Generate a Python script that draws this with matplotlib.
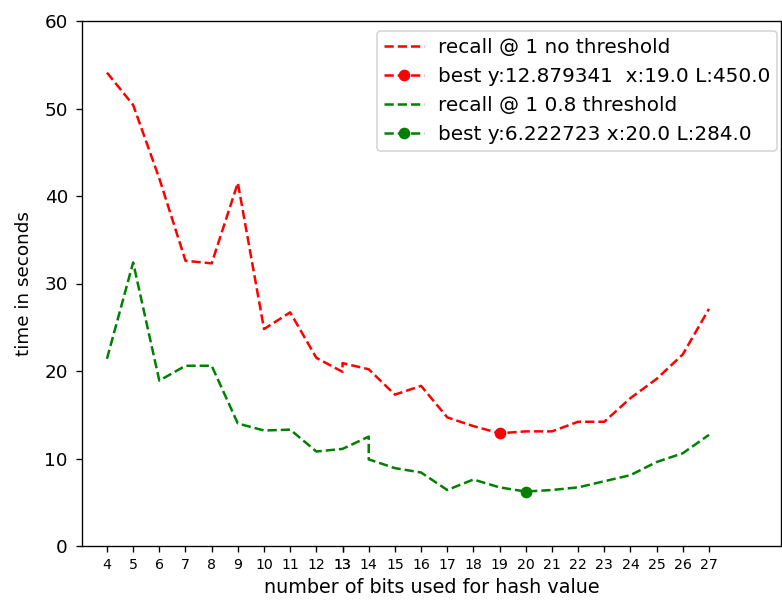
import matplotlib
matplotlib.use('Agg')
import matplotlib.pyplot as plt

# bits used for the hash value (13 shows up twice in the no-threshold run)
bits_red = [4, 5, 6, 7, 8, 9, 10, 11, 12, 13, 13, 14, 15, 16, 17, 18, 19,
            20, 21, 22, 23, 24, 25, 26, 27]
time_red = [54.1, 50.4, 42.0, 32.6, 32.3, 41.5, 24.8, 26.7, 21.5, 19.9, 20.9,
            20.2, 17.3, 18.3, 14.7, 13.7, 12.879341, 13.1, 13.1, 14.2, 14.2,
            16.9, 19.1, 21.9, 27.1]

# 14 shows up twice in the 0.8 threshold run
bits_green = [4, 5, 6, 7, 8, 9, 10, 11, 12, 13, 14, 14, 15, 16, 17, 18, 19,
              20, 21, 22, 23, 24, 25, 26, 27]
time_green = [21.4, 32.4, 18.9, 20.6, 20.6, 14.0, 13.2, 13.3, 10.8, 11.1, 12.5,
              9.9, 8.9, 8.4, 6.4, 7.6, 6.7, 6.222723, 6.4, 6.7, 7.4, 8.1, 9.6,
              10.6, 12.7]

# best point: x, y, L
best_red = (19.0, 12.879341, 450.0)
best_green = (20.0, 6.222723, 284.0)

fig = plt.figure(figsize=(782 / 120, 600 / 120), dpi=120)
ax = fig.add_axes([0.105, 0.09, 0.894, 0.875])

ax.plot(bits_red, time_red, 'r--', label='recall @ 1 no threshold')
ax.plot(best_red[0], best_red[1], 'r--o',
        label='best y:%f  x:%.1f L:%.1f' % (best_red[1], best_red[0], best_red[2]))
ax.plot(bits_green, time_green, 'g--', label='recall @ 1 0.8 threshold')
ax.plot(best_green[0], best_green[1], 'g--o',
        label='best y:%f x:%.1f L:%.1f' % (best_green[1], best_green[0], best_green[2]))

ax.set_xticks(bits_red)
ax.tick_params(axis='x', labelsize=8.5)
ax.tick_params(axis='y', labelsize=11, pad=5)
ax.set_xlim(3.05, 29.76)
ax.set_ylim(0, 60)
ax.set_xlabel('number of bits used for hash value', fontsize=11.5)
ax.set_ylabel('time in seconds', fontsize=11, labelpad=7)
ax.legend(loc='upper right', fontsize=12, borderaxespad=0, borderpad=0.35,
          handletextpad=0.7,
          bbox_to_anchor=(777 / 782, 1 - 31 / 600), bbox_transform=fig.transFigure)

fig.savefig('out.png', dpi=120)
